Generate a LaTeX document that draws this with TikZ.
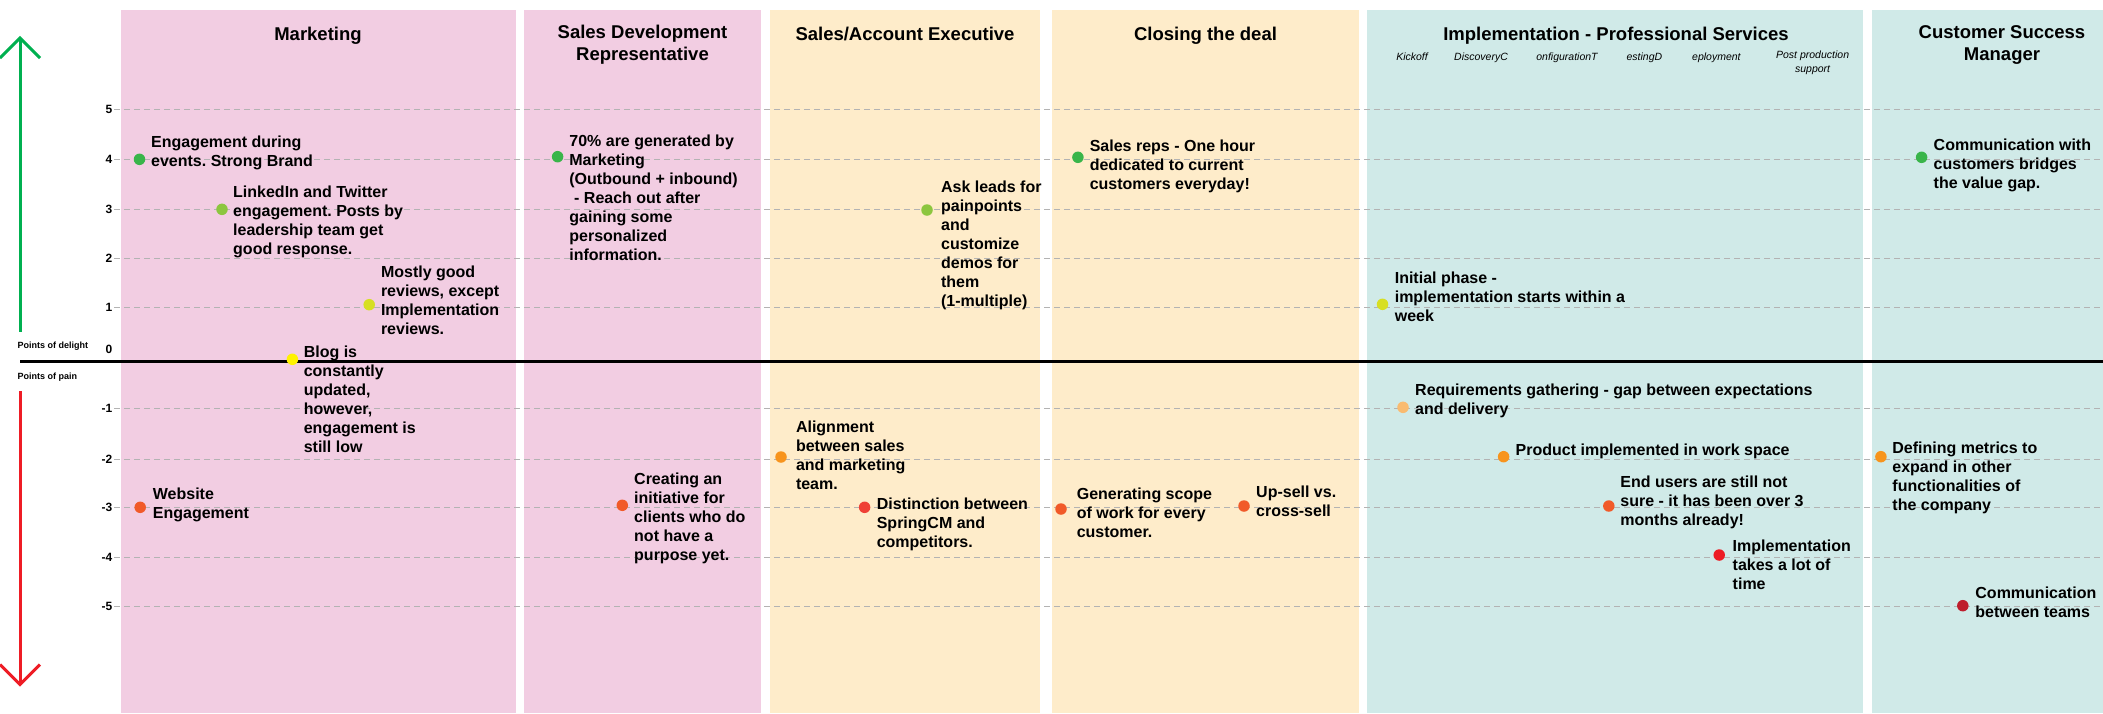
\documentclass[tikz,border=0pt]{standalone}
\usepackage{fontspec}
\setmainfont{Liberation Sans}
\frenchspacing
\definecolor{pinkcol}{HTML}{F2CDE2}
\definecolor{peachcol}{HTML}{FEECCA}
\definecolor{tealcol}{HTML}{D0EAE8}
\definecolor{gridgray}{HTML}{B3B3B3}
\definecolor{delight}{HTML}{00B050}
\definecolor{pain}{HTML}{EE1C25}
\definecolor{lvgreen}{HTML}{39B54A}
\definecolor{lvlgreen}{HTML}{8CC63F}
\definecolor{lvlime}{HTML}{D7DF23}
\definecolor{lvyellow}{HTML}{FFF200}
\definecolor{lvpeach}{HTML}{F9BB70}
\definecolor{lvorange}{HTML}{F7941D}
\definecolor{lvred}{HTML}{F15A29}
\definecolor{lvscarlet}{HTML}{EF4136}
\definecolor{lvdeep}{HTML}{ED1C24}
\definecolor{lvcrimson}{HTML}{BE1E2D}
\tikzset{
  lane/.style={fill=#1, draw=none},
  gridline/.style={gridgray, line width=1pt, dash pattern=on 6pt off 4pt},
  dot/.style={circle, fill=#1, draw=none, minimum size=11.5pt, inner sep=0pt},
  % multi-line texts: the given point is the baseline of the first line
  note/.style={anchor=north west, yshift=13.3pt, align=left, inner sep=0pt,
    execute at begin node=\strut,
    font=\bfseries\fontsize{16}{19}\selectfont},
  header/.style={anchor=north, yshift=15.4pt, align=center, inner sep=0pt,
    execute at begin node=\strut,
    font=\bfseries\fontsize{18.5}{22}\selectfont},
  phase/.style={anchor=north, yshift=9.8pt, align=center, inner sep=0pt,
    execute at begin node=\strut,
    font=\itshape\fontsize{10.5}{14}\selectfont},
  scalelabel/.style={anchor=east, inner sep=0pt, font=\bfseries\fontsize{12}{14}\selectfont},
  sidelabel/.style={anchor=base west, inner sep=0pt, font=\bfseries\fontsize{9}{11}\selectfont},
}
\begin{document}
\begin{tikzpicture}[x=1pt, y=-1pt]
% canvas
\fill[white] (0,0) rectangle (2103,713);
\useasboundingbox (0,0) rectangle (2103,713);

% stage lanes
\fill[lane=pinkcol]  (120.5,10) rectangle (515.6,713);
\fill[lane=pinkcol]  (523.7,10) rectangle (761.4,713);
\fill[lane=peachcol] (770.4,10) rectangle (1040.4,713);
\fill[lane=peachcol] (1051.6,10) rectangle (1358.8,713);
\fill[lane=tealcol]  (1367.2,10) rectangle (1863.3,713);
\fill[lane=tealcol]  (1871.8,10) rectangle (2103,713);

% stage titles
\node[header] (hmkt) at (318,40.5) {Marketing};
\node[header] (hsdr) at (642.5,40.5) {Sales Development\\Representative};
\node[header] (hsae) at (905,40.5) {Sales/Account Executive};
\node[header] (hclose) at (1205.5,40.5) {Closing the deal};
\node[header] (himpl) at (1616,40.5) {Implementation - Professional Services};
\node[header] (hcsm) at (2002,40.5) {Customer Success\\Manager};

% implementation phases
\node[phase] (p1) at (1412,60.2) {Kickoff};
\node[phase] (p2) at (1481,60.2) {DiscoveryC};
\node[phase] (p3) at (1567,60.2) {onfigurationT};
\node[phase] (p4) at (1644.4,60.2) {estingD};
\node[phase] (p5) at (1716.4,60.2) {eployment};
\node[phase] (p6) at (1812.6,60.2) {Post production\\support};

% score grid
\foreach \v/\yy in {5/109.3,4/159.3,3/209.3,2/258.8,1/307.8,-1/408.3,-2/459,-3/507.3,-4/557.3,-5/606.3} {
  \draw[gridline] (114,\yy) -- (2103,\yy);
  \node[scalelabel] at (112.5,\yy) {\v};
}
\node[scalelabel] (zero) at (112.5,349) {0};

% neutral axis
\draw[line width=3.5pt] (20,361.3) -- (2103,361.3);
\node[sidelabel] (ldelight) at (17.5,348.5) {Points of delight};
\node[sidelabel] (lpain) at (17.5,379.5) {Points of pain};

% delight / pain arrows
\coordinate (gbot) at (20,331.5);
\coordinate (gtip) at (20,38);
\draw[delight, line width=3pt] (gbot) -- (gtip);
\draw[delight, line width=3pt, line join=miter] (0,58) -- (gtip) -- (40,58);
\coordinate (rtop) at (20,391);
\coordinate (rtip) at (20,684.5);
\draw[pain, line width=3pt] (rtop) -- (rtip);
\draw[pain, line width=3pt, line join=miter] (0,664.5) -- (rtip) -- (40,664.5);

% Marketing
\node[dot=lvgreen] (d1) at (139.5,159.3) {};
\node[note] (t1) at (151,149) {Engagement during\\events. Strong Brand};
\node[dot=lvlgreen] (d2) at (222,209.3) {};
\node[note] (t2) at (233,198.7) {LinkedIn and Twitter\\engagement. Posts by\\leadership team get\\good response.};
\node[dot=lvlime] (d3) at (369.2,304.7) {};
\node[note] (t3) at (380.8,279) {Mostly good\\reviews, except\\Implementation\\reviews.};
\node[dot=lvyellow] (d4) at (292.4,359.3) {};
\node[note] (t4) at (303.6,358.7) {Blog is\\constantly\\updated,\\however,\\engagement is\\still low};
\node[dot=lvred] (d5) at (140.2,507.3) {};
\node[note] (t5) at (152.7,500.7) {Website\\Engagement};

% Sales Development Representative
\node[dot=lvgreen] (d6) at (557.6,156.7) {};
\node[note] (t6) at (569.2,147.7) {70\% are generated by\\Marketing\\(Outbound + inbound)\\\hspace{0.3em}- Reach out after\\gaining some\\personalized\\information.};
\node[dot=lvred] (d7) at (622.3,505.3) {};
\node[note] (t7) at (634,486) {Creating an\\initiative for\\clients who do\\not have a\\purpose yet.};

% Sales/Account Executive
\node[dot=lvlgreen] (d8) at (927,210) {};
\node[note] (t8) at (940.9,194) {Ask leads for\\painpoints\\and\\customize\\demos for\\them\\(1-multiple)};
\node[dot=lvorange] (d9) at (781,457) {};
\node[note] (t9) at (795.8,434) {Alignment\\between sales\\and marketing\\team.};
\node[dot=lvscarlet] (d10) at (864.6,507.3) {};
\node[note] (t10) at (876.6,510.7) {Distinction between\\SpringCM and\\competitors.};

% Closing the deal
\node[dot=lvgreen] (d11) at (1077.9,157.3) {};
\node[note] (t11) at (1089.6,152.7) {Sales reps - One hour\\dedicated to current\\customers everyday!};
\node[dot=lvred] (d12) at (1061,509) {};
\node[note] (t12) at (1076.6,501) {Generating scope\\of work for every\\customer.};
\node[dot=lvred] (d13) at (1244,506) {};
\node[note] (t13) at (1256,498.7) {Up-sell vs.\\cross-sell};

% Implementation - Professional Services
\node[dot=lvlime] (d14) at (1382.5,304.3) {};
\node[note] (t14) at (1394.6,285) {Initial phase -\\implementation starts within a\\week};
\node[dot=lvpeach] (d15) at (1403,407.3) {};
\node[note] (t15) at (1415,397) {Requirements gathering - gap between expectations\\and delivery};
\node[dot=lvorange] (d16) at (1503.6,456.7) {};
\node[note] (t16) at (1515.5,455) {Product implemented in work space};
\node[dot=lvred] (d17) at (1608.8,506) {};
\node[note] (t17) at (1620.2,489) {End users are still not\\sure - it has been over 3\\months already!};
\node[dot=lvdeep] (d18) at (1719.2,555) {};
\node[note] (t18) at (1732.5,552.7) {Implementation\\takes a lot of\\time};

% Customer Success Manager
\node[dot=lvgreen] (d19) at (1921.6,157.3) {};
\node[note] (t19) at (1933.5,152.3) {Communication with\\customers bridges\\the value gap.};
\node[dot=lvorange] (d20) at (1880.9,456.7) {};
\node[note] (t20) at (1892.2,455) {Defining metrics to\\expand in other\\functionalities of\\the company};
\node[dot=lvcrimson] (d21) at (1962.8,605.7) {};
\node[note] (t21) at (1975.2,600) {Communication\\between teams};
\end{tikzpicture}
\end{document}
